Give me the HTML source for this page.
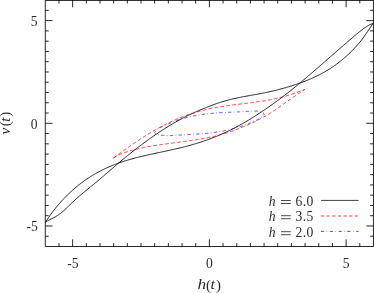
<!DOCTYPE html>
<html><head><meta charset="utf-8"><style>
html,body{margin:0;padding:0;background:#fff;}
svg{display:block}
text{font-family:"Liberation Serif",serif;fill:#2b2b2b}
.i{font-style:italic}
</style></head><body>
<svg width="374" height="293" viewBox="0 0 374 293">
<defs><filter id="gs" x="0" y="0" width="374" height="293" filterUnits="userSpaceOnUse" color-interpolation-filters="sRGB"><feColorMatrix type="saturate" values="0"/></filter></defs>
<rect width="374" height="293" fill="#fff"/>
<g fill="none" stroke="#000" stroke-width="0.85">
<path d="M45.3,246.5 V0 M373.45,246.5 V0 M45.3,246.5 H373.45 M45.3,0.45 H373.45"/>
<path d="M58.97,246.5 v-3.4 M58.97,0.1 v3.4 M45.3,236.23 h3.4 M373.45,236.23 h-3.4 M72.65,246.5 v-7.2 M72.65,0.1 v7.2 M45.3,225.97 h7.2 M373.45,225.97 h-7.2 M86.32,246.5 v-3.4 M86.32,0.1 v3.4 M45.3,215.70 h3.4 M373.45,215.70 h-3.4 M99.99,246.5 v-3.4 M99.99,0.1 v3.4 M45.3,205.43 h3.4 M373.45,205.43 h-3.4 M113.66,246.5 v-3.4 M113.66,0.1 v3.4 M45.3,195.17 h3.4 M373.45,195.17 h-3.4 M127.34,246.5 v-3.4 M127.34,0.1 v3.4 M45.3,184.90 h3.4 M373.45,184.90 h-3.4 M141.01,246.5 v-3.4 M141.01,0.1 v3.4 M45.3,174.63 h3.4 M373.45,174.63 h-3.4 M154.68,246.5 v-3.4 M154.68,0.1 v3.4 M45.3,164.37 h3.4 M373.45,164.37 h-3.4 M168.36,246.5 v-3.4 M168.36,0.1 v3.4 M45.3,154.10 h3.4 M373.45,154.10 h-3.4 M182.03,246.5 v-3.4 M182.03,0.1 v3.4 M45.3,143.83 h3.4 M373.45,143.83 h-3.4 M195.70,246.5 v-3.4 M195.70,0.1 v3.4 M45.3,133.57 h3.4 M373.45,133.57 h-3.4 M209.38,246.5 v-7.2 M209.38,0.1 v7.2 M45.3,123.30 h7.2 M373.45,123.30 h-7.2 M223.05,246.5 v-3.4 M223.05,0.1 v3.4 M45.3,113.03 h3.4 M373.45,113.03 h-3.4 M236.72,246.5 v-3.4 M236.72,0.1 v3.4 M45.3,102.77 h3.4 M373.45,102.77 h-3.4 M250.39,246.5 v-3.4 M250.39,0.1 v3.4 M45.3,92.50 h3.4 M373.45,92.50 h-3.4 M264.07,246.5 v-3.4 M264.07,0.1 v3.4 M45.3,82.23 h3.4 M373.45,82.23 h-3.4 M277.74,246.5 v-3.4 M277.74,0.1 v3.4 M45.3,71.97 h3.4 M373.45,71.97 h-3.4 M291.41,246.5 v-3.4 M291.41,0.1 v3.4 M45.3,61.70 h3.4 M373.45,61.70 h-3.4 M305.09,246.5 v-3.4 M305.09,0.1 v3.4 M45.3,51.43 h3.4 M373.45,51.43 h-3.4 M318.76,246.5 v-3.4 M318.76,0.1 v3.4 M45.3,41.17 h3.4 M373.45,41.17 h-3.4 M332.43,246.5 v-3.4 M332.43,0.1 v3.4 M45.3,30.90 h3.4 M373.45,30.90 h-3.4 M346.10,246.5 v-7.2 M346.10,0.1 v7.2 M45.3,20.63 h7.2 M373.45,20.63 h-7.2 M359.78,246.5 v-3.4 M359.78,0.1 v3.4 M45.3,10.37 h3.4 M373.45,10.37 h-3.4"/>
<path d="M45.40,222.30 L46.50,221.59 L47.59,220.92 L48.69,220.30 L49.78,219.70 L50.88,219.13 L51.97,218.56 L53.07,217.99 L54.17,217.42 L55.26,216.83 L56.36,216.21 L57.45,215.55 L58.55,214.85 L59.64,214.09 L60.74,213.27 L61.83,212.39 L62.93,211.45 L64.03,210.47 L65.12,209.45 L66.22,208.40 L67.31,207.34 L68.41,206.28 L69.50,205.21 L70.60,204.16 L71.70,203.10 L72.79,202.06 L73.89,201.03 L74.98,200.02 L76.08,199.02 L77.17,198.04 L78.27,197.07 L79.37,196.12 L80.46,195.17 L81.56,194.24 L82.65,193.32 L83.75,192.41 L84.84,191.50 L85.94,190.60 L87.03,189.70 L88.13,188.81 L89.23,187.92 L90.32,187.03 L91.42,186.14 L92.51,185.25 L93.61,184.36 L94.70,183.46 L95.80,182.56 L96.90,181.65 L97.99,180.73 L99.09,179.81 L100.18,178.88 L101.28,177.95 L102.37,177.01 L103.47,176.07 L104.57,175.13 L105.66,174.18 L106.76,173.24 L107.85,172.29 L108.95,171.34 L110.04,170.38 L111.14,169.43 L112.23,168.48 L113.33,167.54 L114.43,166.59 L115.52,165.65 L116.62,164.71 L117.71,163.77 L118.81,162.84 L119.90,161.91 L121.00,160.99 L122.10,160.08 L123.19,159.17 L124.29,158.26 L125.38,157.36 L126.48,156.47 L127.57,155.58 L128.67,154.69 L129.77,153.81 L130.86,152.94 L131.96,152.07 L133.05,151.21 L134.15,150.35 L135.24,149.50 L136.34,148.65 L137.43,147.81 L138.53,146.97 L139.63,146.14 L140.72,145.32 L141.82,144.50 L142.91,143.68 L144.01,142.88 L145.10,142.07 L146.20,141.27 L147.30,140.48 L148.39,139.70 L149.49,138.91 L150.58,138.14 L151.68,137.37 L152.77,136.60 L153.87,135.84 L154.97,135.09 L156.06,134.34 L157.16,133.60 L158.25,132.86 L159.35,132.13 L160.44,131.40 L161.54,130.68 L162.63,129.97 L163.73,129.26 L164.83,128.56 L165.92,127.87 L167.02,127.18 L168.11,126.50 L169.21,125.82 L170.30,125.16 L171.40,124.50 L172.50,123.84 L173.59,123.20 L174.69,122.56 L175.78,121.93 L176.88,121.31 L177.97,120.70 L179.07,120.10 L180.17,119.50 L181.26,118.92 L182.36,118.34 L183.45,117.77 L184.55,117.21 L185.64,116.66 L186.74,116.11 L187.83,115.57 L188.93,115.05 L190.03,114.52 L191.12,114.01 L192.22,113.50 L193.31,113.00 L194.41,112.50 L195.50,112.02 L196.60,111.53 L197.70,111.06 L198.79,110.58 L199.89,110.12 L200.98,109.66 L202.08,109.20 L203.17,108.75 L204.27,108.30 L205.37,107.86 L206.46,107.42 L207.56,106.98 L208.65,106.55 L209.75,106.13 L210.84,105.71 L211.94,105.29 L213.03,104.89 L214.13,104.48 L215.23,104.09 L216.32,103.71 L217.42,103.33 L218.51,102.96 L219.61,102.60 L220.70,102.25 L221.80,101.90 L222.90,101.57 L223.99,101.24 L225.09,100.93 L226.18,100.62 L227.28,100.32 L228.37,100.02 L229.47,99.74 L230.57,99.46 L231.66,99.19 L232.76,98.93 L233.85,98.67 L234.95,98.42 L236.04,98.18 L237.14,97.95 L238.23,97.72 L239.33,97.49 L240.43,97.28 L241.52,97.06 L242.62,96.85 L243.71,96.65 L244.81,96.45 L245.90,96.25 L247.00,96.05 L248.10,95.85 L249.19,95.66 L250.29,95.46 L251.38,95.27 L252.48,95.08 L253.57,94.88 L254.67,94.68 L255.77,94.49 L256.86,94.29 L257.96,94.08 L259.05,93.88 L260.15,93.67 L261.24,93.45 L262.34,93.24 L263.43,93.02 L264.53,92.80 L265.63,92.57 L266.72,92.34 L267.82,92.10 L268.91,91.87 L270.01,91.62 L271.10,91.38 L272.20,91.13 L273.30,90.87 L274.39,90.61 L275.49,90.35 L276.58,90.08 L277.68,89.81 L278.77,89.53 L279.87,89.25 L280.97,88.96 L282.06,88.66 L283.16,88.37 L284.25,88.06 L285.35,87.75 L286.44,87.44 L287.54,87.12 L288.63,86.79 L289.73,86.46 L290.83,86.12 L291.92,85.78 L293.02,85.43 L294.11,85.07 L295.21,84.71 L296.30,84.34 L297.40,83.96 L298.50,83.58 L299.59,83.19 L300.69,82.79 L301.78,82.39 L302.88,81.98 L303.97,81.56 L305.07,81.14 L306.17,80.71 L307.26,80.27 L308.36,79.82 L309.45,79.36 L310.55,78.89 L311.64,78.42 L312.74,77.93 L313.83,77.43 L314.93,76.93 L316.03,76.41 L317.12,75.88 L318.22,75.33 L319.31,74.78 L320.41,74.21 L321.50,73.63 L322.60,73.04 L323.70,72.43 L324.79,71.81 L325.89,71.18 L326.98,70.53 L328.08,69.86 L329.17,69.18 L330.27,68.49 L331.37,67.77 L332.46,67.04 L333.56,66.30 L334.65,65.53 L335.75,64.75 L336.84,63.95 L337.94,63.13 L339.03,62.29 L340.13,61.43 L341.23,60.56 L342.32,59.66 L343.42,58.74 L344.51,57.80 L345.61,56.84 L346.70,55.86 L347.80,54.86 L348.90,53.83 L349.99,52.78 L351.09,51.71 L352.18,50.62 L353.28,49.50 L354.37,48.35 L355.47,47.18 L356.57,45.98 L357.66,44.74 L358.76,43.47 L359.85,42.16 L360.95,40.80 L362.04,39.40 L363.14,37.94 L364.23,36.43 L365.33,34.87 L366.43,33.27 L367.52,31.63 L368.62,29.98 L369.71,28.33 L370.81,26.69 L371.90,25.07 L373.00,23.50"/>
<path d="M45.40,222.30 L46.50,220.62 L47.59,218.99 L48.69,217.39 L49.78,215.82 L50.88,214.29 L51.97,212.80 L53.07,211.34 L54.17,209.91 L55.26,208.52 L56.36,207.15 L57.45,205.82 L58.55,204.52 L59.64,203.24 L60.74,202.00 L61.83,200.78 L62.93,199.59 L64.03,198.43 L65.12,197.29 L66.22,196.18 L67.31,195.09 L68.41,194.03 L69.50,192.98 L70.60,191.96 L71.70,190.97 L72.79,189.99 L73.89,189.03 L74.98,188.09 L76.08,187.17 L77.17,186.26 L78.27,185.38 L79.37,184.51 L80.46,183.66 L81.56,182.83 L82.65,182.01 L83.75,181.21 L84.84,180.43 L85.94,179.67 L87.03,178.92 L88.13,178.18 L89.23,177.46 L90.32,176.76 L91.42,176.07 L92.51,175.40 L93.61,174.74 L94.70,174.09 L95.80,173.46 L96.90,172.84 L97.99,172.24 L99.09,171.65 L100.18,171.07 L101.28,170.51 L102.37,169.95 L103.47,169.41 L104.57,168.89 L105.66,168.37 L106.76,167.86 L107.85,167.37 L108.95,166.89 L110.04,166.42 L111.14,165.96 L112.23,165.51 L113.33,165.07 L114.43,164.64 L115.52,164.21 L116.62,163.80 L117.71,163.40 L118.81,163.01 L119.90,162.62 L121.00,162.24 L122.10,161.88 L123.19,161.51 L124.29,161.16 L125.38,160.82 L126.48,160.48 L127.57,160.14 L128.67,159.82 L129.77,159.50 L130.86,159.19 L131.96,158.88 L133.05,158.58 L134.15,158.28 L135.24,157.99 L136.34,157.71 L137.43,157.43 L138.53,157.15 L139.63,156.88 L140.72,156.61 L141.82,156.34 L142.91,156.08 L144.01,155.83 L145.10,155.57 L146.20,155.32 L147.30,155.07 L148.39,154.83 L149.49,154.58 L150.58,154.34 L151.68,154.10 L152.77,153.87 L153.87,153.63 L154.97,153.39 L156.06,153.16 L157.16,152.93 L158.25,152.70 L159.35,152.47 L160.44,152.23 L161.54,152.00 L162.63,151.77 L163.73,151.54 L164.83,151.31 L165.92,151.08 L167.02,150.84 L168.11,150.61 L169.21,150.37 L170.30,150.13 L171.40,149.89 L172.50,149.65 L173.59,149.41 L174.69,149.16 L175.78,148.91 L176.88,148.66 L177.97,148.40 L179.07,148.14 L180.17,147.88 L181.26,147.62 L182.36,147.35 L183.45,147.07 L184.55,146.79 L185.64,146.51 L186.74,146.22 L187.83,145.93 L188.93,145.63 L190.03,145.33 L191.12,145.02 L192.22,144.71 L193.31,144.39 L194.41,144.07 L195.50,143.74 L196.60,143.40 L197.70,143.06 L198.79,142.72 L199.89,142.36 L200.98,142.01 L202.08,141.64 L203.17,141.27 L204.27,140.90 L205.37,140.52 L206.46,140.13 L207.56,139.74 L208.65,139.34 L209.75,138.93 L210.84,138.52 L211.94,138.10 L213.03,137.68 L214.13,137.25 L215.23,136.81 L216.32,136.37 L217.42,135.92 L218.51,135.46 L219.61,134.99 L220.70,134.52 L221.80,134.05 L222.90,133.56 L223.99,133.07 L225.09,132.57 L226.18,132.06 L227.28,131.55 L228.37,131.03 L229.47,130.50 L230.57,129.97 L231.66,129.43 L232.76,128.88 L233.85,128.32 L234.95,127.76 L236.04,127.18 L237.14,126.60 L238.23,126.02 L239.33,125.42 L240.43,124.82 L241.52,124.21 L242.62,123.59 L243.71,122.96 L244.81,122.33 L245.90,121.69 L247.00,121.05 L248.10,120.39 L249.19,119.73 L250.29,119.07 L251.38,118.39 L252.48,117.71 L253.57,117.03 L254.67,116.34 L255.77,115.64 L256.86,114.93 L257.96,114.22 L259.05,113.51 L260.15,112.78 L261.24,112.06 L262.34,111.32 L263.43,110.58 L264.53,109.84 L265.63,109.09 L266.72,108.34 L267.82,107.58 L268.91,106.81 L270.01,106.04 L271.10,105.27 L272.20,104.49 L273.30,103.71 L274.39,102.92 L275.49,102.13 L276.58,101.33 L277.68,100.53 L278.77,99.72 L279.87,98.91 L280.97,98.09 L282.06,97.27 L283.16,96.44 L284.25,95.60 L285.35,94.76 L286.44,93.92 L287.54,93.07 L288.63,92.21 L289.73,91.35 L290.83,90.48 L291.92,89.60 L293.02,88.72 L294.11,87.84 L295.21,86.94 L296.30,86.04 L297.40,85.14 L298.50,84.23 L299.59,83.31 L300.69,82.40 L301.78,81.47 L302.88,80.55 L303.97,79.62 L305.07,78.69 L306.17,77.75 L307.26,76.82 L308.36,75.88 L309.45,74.94 L310.55,74.00 L311.64,73.06 L312.74,72.12 L313.83,71.17 L314.93,70.22 L316.03,69.28 L317.12,68.33 L318.22,67.38 L319.31,66.43 L320.41,65.48 L321.50,64.52 L322.60,63.57 L323.70,62.62 L324.79,61.66 L325.89,60.71 L326.98,59.75 L328.08,58.80 L329.17,57.84 L330.27,56.89 L331.37,55.93 L332.46,54.98 L333.56,54.02 L334.65,53.07 L335.75,52.11 L336.84,51.16 L337.94,50.20 L339.03,49.25 L340.13,48.30 L341.23,47.35 L342.32,46.40 L343.42,45.45 L344.51,44.50 L345.61,43.55 L346.70,42.61 L347.80,41.66 L348.90,40.72 L349.99,39.78 L351.09,38.83 L352.18,37.90 L353.28,36.96 L354.37,36.02 L355.47,35.09 L356.57,34.16 L357.66,33.24 L358.76,32.33 L359.85,31.44 L360.95,30.57 L362.04,29.72 L363.14,28.90 L364.23,28.12 L365.33,27.37 L366.43,26.66 L367.52,26.00 L368.62,25.38 L369.71,24.82 L370.81,24.32 L371.90,23.87 L373.00,23.49"/>
<path d="M321,200.4 H358.6" stroke-width="0.75"/>
</g>
<g fill="none" stroke="#00f" stroke-width="0.72">
<path d="M264.30,113.90 L264.00,113.62 L263.70,113.36 L263.39,113.13 L263.08,112.91 L262.77,112.71 L262.45,112.53 L262.12,112.36 L261.79,112.21 L261.46,112.07 L261.13,111.95 L260.79,111.83 L260.45,111.73 L260.10,111.64 L259.75,111.55 L259.40,111.48 L259.05,111.41 L258.69,111.34 L258.33,111.29 L257.96,111.24 L257.60,111.20 L257.23,111.16 L256.86,111.13 L256.49,111.10 L256.11,111.08 L255.74,111.06 L255.36,111.05 L254.98,111.04 L254.60,111.04 L254.21,111.04 L253.83,111.04 L253.44,111.05 L253.05,111.06 L252.66,111.07 L252.27,111.09 L251.88,111.11 L251.49,111.13 L251.10,111.15 L250.71,111.17 L250.31,111.20 L249.92,111.22 L249.53,111.25 L249.13,111.28 L248.74,111.30 L248.34,111.33 L247.95,111.36 L247.56,111.38 L247.16,111.41 L246.77,111.43 L246.38,111.46 L245.98,111.48 L245.59,111.51 L245.20,111.53 L244.81,111.55 L244.42,111.58 L244.03,111.60 L243.64,111.62 L243.25,111.64 L242.86,111.66 L242.47,111.68 L242.08,111.70 L241.69,111.72 L241.30,111.74 L240.91,111.76 L240.52,111.78 L240.13,111.80 L239.74,111.82 L239.36,111.83 L238.97,111.85 L238.58,111.87 L238.19,111.89 L237.81,111.90 L237.42,111.92 L237.03,111.94 L236.64,111.95 L236.26,111.97 L235.87,111.99 L235.49,112.00 L235.10,112.02 L234.72,112.03 L234.33,112.05 L233.94,112.07 L233.56,112.08 L233.17,112.10 L232.79,112.11 L232.40,112.13 L232.02,112.14 L231.64,112.16 L231.25,112.17 L230.87,112.19 L230.48,112.21 L230.10,112.22 L229.72,112.24 L229.33,112.25 L228.95,112.27 L228.57,112.29 L228.18,112.30 L227.80,112.32 L227.42,112.33 L227.03,112.35 L226.65,112.37 L226.27,112.39 L225.89,112.40 L225.50,112.42 L225.12,112.44 L224.74,112.46 L224.36,112.47 L223.97,112.49 L223.59,112.51 L223.21,112.53 L222.83,112.55 L222.45,112.57 L222.06,112.59 L221.68,112.61 L221.30,112.63 L220.92,112.66 L220.54,112.68 L220.15,112.70 L219.77,112.72 L219.39,112.75 L219.01,112.77 L218.63,112.79 L218.25,112.82 L217.86,112.84 L217.48,112.87 L217.10,112.90 L216.72,112.92 L216.34,112.95 L215.96,112.98 L215.57,113.01 L215.19,113.04 L214.81,113.06 L214.43,113.10 L214.05,113.13 L213.67,113.16 L213.28,113.19 L212.90,113.22 L212.52,113.26 L212.14,113.29 L211.76,113.33 L211.37,113.36 L210.99,113.40 L210.61,113.44 L210.23,113.48 L209.84,113.51 L209.46,113.55 L209.08,113.60 L208.70,113.64 L208.31,113.68 L207.93,113.72 L207.55,113.77 L207.17,113.81 L206.78,113.86 L206.40,113.90 L206.02,113.95 L205.64,114.00 L205.25,114.05 L204.87,114.10 L204.49,114.15 L204.11,114.20 L203.72,114.25 L203.34,114.30 L202.96,114.36 L202.58,114.41 L202.19,114.47 L201.81,114.52 L201.43,114.58 L201.05,114.64 L200.67,114.70 L200.28,114.76 L199.90,114.82 L199.52,114.88 L199.14,114.94 L198.76,115.01 L198.38,115.07 L198.00,115.14 L197.61,115.20 L197.23,115.27 L196.85,115.34 L196.47,115.41 L196.09,115.48 L195.71,115.55 L195.33,115.62 L194.95,115.69 L194.57,115.77 L194.19,115.84 L193.81,115.92 L193.44,115.99 L193.06,116.07 L192.68,116.15 L192.30,116.23 L191.92,116.31 L191.54,116.39 L191.17,116.47 L190.79,116.56 L190.41,116.64 L190.04,116.73 L189.66,116.82 L189.28,116.90 L188.91,116.99 L188.53,117.08 L188.16,117.17 L187.78,117.26 L187.41,117.36 L187.03,117.45 L186.66,117.55 L186.28,117.64 L185.91,117.74 L185.54,117.84 L185.16,117.94 L184.79,118.04 L184.42,118.14 L184.05,118.24 L183.68,118.34 L183.31,118.45 L182.93,118.55 L182.56,118.66 L182.20,118.77 L181.83,118.88 L181.46,118.99 L181.09,119.10 L180.72,119.21 L180.35,119.32 L179.98,119.44 L179.62,119.55 L179.25,119.67 L178.89,119.79 L178.52,119.91 L178.16,120.03 L177.79,120.15 L177.43,120.27 L177.06,120.39 L176.70,120.52 L176.34,120.64 L175.98,120.77 L175.61,120.90 L175.25,121.03 L174.89,121.16 L174.53,121.29 L174.17,121.42 L173.81,121.56 L173.45,121.69 L173.09,121.83 L172.74,121.97 L172.38,122.11 L172.02,122.25 L171.66,122.39 L171.31,122.53 L170.95,122.67 L170.60,122.82 L170.24,122.96 L169.89,123.11 L169.53,123.26 L169.18,123.40 L168.82,123.55 L168.47,123.70 L168.11,123.86 L167.76,124.01 L167.41,124.16 L167.05,124.32 L166.70,124.48 L166.35,124.63 L166.00,124.79 L165.64,124.95 L165.29,125.11 L164.94,125.27 L164.59,125.43 L164.24,125.60 L163.89,125.76 L163.54,125.93 L163.19,126.10 L162.84,126.26 L162.49,126.43 L162.13,126.60 L161.78,126.77 L161.43,126.95 L161.08,127.12 L160.73,127.29 L160.39,127.47 L160.04,127.64 L159.69,127.82 L159.35,128.01 L159.01,128.20 L158.68,128.39 L158.35,128.58 L158.03,128.78 L157.72,128.99 L157.42,129.21 L157.12,129.43 L156.83,129.66 L156.56,129.89 L156.29,130.14 L156.04,130.40 L155.80,130.66 L155.58,130.94 L155.37,131.23 L155.18,131.53 L155.00,131.84 L154.84,132.16 L154.70,132.50 L154.87,132.79 L155.07,133.05 L155.29,133.29 L155.53,133.51 L155.79,133.71 L156.06,133.90 L156.35,134.06 L156.65,134.21 L156.96,134.34 L157.29,134.46 L157.63,134.57 L157.98,134.66 L158.33,134.75 L158.69,134.83 L159.06,134.89 L159.43,134.96 L159.81,135.01 L160.19,135.06 L160.56,135.11 L160.94,135.16 L161.32,135.20 L161.70,135.24 L162.08,135.28 L162.46,135.31 L162.84,135.35 L163.23,135.38 L163.61,135.40 L163.99,135.43 L164.37,135.45 L164.76,135.47 L165.14,135.49 L165.52,135.51 L165.91,135.52 L166.29,135.53 L166.68,135.54 L167.06,135.55 L167.45,135.56 L167.83,135.56 L168.22,135.56 L168.60,135.56 L168.99,135.56 L169.38,135.56 L169.76,135.56 L170.15,135.55 L170.54,135.54 L170.93,135.53 L171.31,135.52 L171.70,135.51 L172.09,135.50 L172.48,135.49 L172.87,135.47 L173.26,135.46 L173.64,135.44 L174.03,135.42 L174.42,135.40 L174.81,135.39 L175.20,135.37 L175.59,135.34 L175.98,135.32 L176.37,135.30 L176.76,135.28 L177.15,135.26 L177.54,135.23 L177.93,135.21 L178.32,135.18 L178.71,135.16 L179.10,135.14 L179.49,135.11 L179.88,135.09 L180.27,135.06 L180.66,135.04 L181.05,135.01 L181.44,134.99 L181.83,134.96 L182.22,134.94 L182.60,134.92 L182.99,134.89 L183.38,134.87 L183.77,134.85 L184.16,134.82 L184.55,134.80 L184.94,134.78 L185.33,134.75 L185.72,134.73 L186.10,134.71 L186.49,134.69 L186.88,134.66 L187.27,134.64 L187.66,134.62 L188.05,134.60 L188.43,134.58 L188.82,134.55 L189.21,134.53 L189.60,134.51 L189.98,134.49 L190.37,134.46 L190.76,134.44 L191.15,134.42 L191.53,134.40 L191.92,134.38 L192.31,134.35 L192.69,134.33 L193.08,134.31 L193.47,134.28 L193.86,134.26 L194.24,134.24 L194.63,134.21 L195.01,134.19 L195.40,134.17 L195.79,134.14 L196.17,134.12 L196.56,134.09 L196.95,134.07 L197.33,134.04 L197.72,134.02 L198.10,133.99 L198.49,133.96 L198.87,133.94 L199.26,133.91 L199.64,133.88 L200.03,133.86 L200.41,133.83 L200.80,133.80 L201.18,133.77 L201.57,133.74 L201.95,133.71 L202.34,133.68 L202.72,133.65 L203.11,133.62 L203.49,133.59 L203.88,133.56 L204.26,133.52 L204.64,133.49 L205.03,133.46 L205.41,133.42 L205.80,133.39 L206.18,133.35 L206.56,133.32 L206.95,133.28 L207.33,133.24 L207.71,133.21 L208.09,133.17 L208.48,133.13 L208.86,133.09 L209.24,133.05 L209.63,133.01 L210.01,132.97 L210.39,132.92 L210.77,132.88 L211.16,132.84 L211.54,132.79 L211.92,132.75 L212.30,132.70 L212.68,132.65 L213.06,132.60 L213.45,132.55 L213.83,132.50 L214.21,132.45 L214.59,132.40 L214.97,132.35 L215.35,132.30 L215.73,132.24 L216.11,132.19 L216.49,132.13 L216.87,132.08 L217.26,132.02 L217.64,131.96 L218.02,131.90 L218.40,131.84 L218.78,131.78 L219.16,131.71 L219.54,131.65 L219.91,131.59 L220.29,131.52 L220.67,131.45 L221.05,131.39 L221.43,131.32 L221.81,131.25 L222.19,131.18 L222.57,131.11 L222.95,131.03 L223.32,130.96 L223.70,130.89 L224.08,130.81 L224.46,130.74 L224.84,130.66 L225.21,130.58 L225.59,130.50 L225.97,130.42 L226.35,130.34 L226.72,130.26 L227.10,130.18 L227.47,130.09 L227.85,130.01 L228.23,129.92 L228.60,129.84 L228.98,129.75 L229.35,129.66 L229.73,129.57 L230.10,129.48 L230.48,129.39 L230.85,129.29 L231.23,129.20 L231.60,129.11 L231.98,129.01 L232.35,128.91 L232.73,128.82 L233.10,128.72 L233.47,128.62 L233.84,128.52 L234.22,128.42 L234.59,128.32 L234.96,128.21 L235.33,128.11 L235.71,128.00 L236.08,127.90 L236.45,127.79 L236.82,127.68 L237.19,127.57 L237.56,127.46 L237.93,127.35 L238.30,127.24 L238.67,127.13 L239.04,127.01 L239.41,126.90 L239.78,126.78 L240.15,126.66 L240.52,126.55 L240.89,126.43 L241.26,126.31 L241.62,126.18 L241.99,126.06 L242.36,125.94 L242.73,125.82 L243.09,125.69 L243.46,125.56 L243.83,125.44 L244.19,125.31 L244.56,125.18 L244.92,125.05 L245.29,124.92 L245.65,124.79 L246.02,124.65 L246.38,124.52 L246.75,124.39 L247.11,124.25 L247.47,124.11 L247.84,123.97 L248.20,123.83 L248.56,123.69 L248.92,123.55 L249.28,123.41 L249.65,123.27 L250.01,123.12 L250.37,122.98 L250.73,122.83 L251.09,122.69 L251.45,122.54 L251.81,122.39 L252.17,122.24 L252.53,122.09 L252.88,121.93 L253.24,121.78 L253.60,121.63 L253.96,121.47 L254.31,121.31 L254.67,121.15 L255.02,120.99 L255.37,120.83 L255.72,120.66 L256.07,120.49 L256.41,120.32 L256.76,120.14 L257.10,119.96 L257.44,119.78 L257.77,119.60 L258.11,119.41 L258.43,119.22 L258.76,119.02 L259.08,118.82 L259.40,118.61 L259.72,118.40 L260.03,118.18 L260.33,117.96 L260.64,117.74 L260.93,117.50 L261.23,117.27 L261.52,117.02 L261.80,116.77 L262.08,116.52 L262.35,116.25 L262.61,115.99 L262.87,115.71 L263.13,115.43 L263.38,115.14 L263.62,114.84 L263.85,114.53 L264.08,114.22 L264.30,113.90" stroke-dasharray="3.3 2.461 0.6 2.461" stroke-dashoffset="1.65"/>
<path d="M321,231.4 H358.6" stroke-dasharray="3.1 2.6 0.5 2.6"/>
</g>
<g fill="none" stroke="#f00" stroke-width="0.8">
<path d="M113.50,158.00 L114.14,157.53 L114.78,157.06 L115.42,156.58 L116.06,156.11 L116.70,155.64 L117.34,155.17 L117.98,154.70 L118.62,154.23 L119.26,153.76 L119.90,153.30 L120.54,152.83 L121.18,152.37 L121.82,151.91 L122.46,151.44 L123.10,150.98 L123.74,150.52 L124.38,150.06 L125.02,149.61 L125.66,149.15 L126.30,148.70 L126.94,148.24 L127.58,147.79 L128.22,147.34 L128.86,146.89 L129.49,146.44 L130.13,145.99 L130.77,145.55 L131.41,145.11 L132.05,144.66 L132.69,144.22 L133.33,143.78 L133.97,143.35 L134.61,142.91 L135.25,142.48 L135.89,142.04 L136.53,141.61 L137.17,141.18 L137.81,140.76 L138.45,140.33 L139.09,139.91 L139.73,139.49 L140.37,139.07 L141.01,138.65 L141.65,138.23 L142.29,137.82 L142.93,137.41 L143.57,137.00 L144.21,136.59 L144.85,136.18 L145.49,135.78 L146.13,135.38 L146.77,134.98 L147.41,134.58 L148.05,134.19 L148.69,133.79 L149.33,133.40 L149.97,133.01 L150.61,132.63 L151.25,132.25 L151.89,131.86 L152.53,131.49 L153.17,131.11 L153.81,130.74 L154.45,130.37 L155.09,130.00 L155.73,129.63 L156.37,129.27 L157.01,128.91 L157.65,128.55 L158.29,128.19 L158.93,127.84 L159.57,127.49 L160.21,127.14 L160.85,126.80 L161.48,126.46 L162.12,126.12 L162.76,125.78 L163.40,125.45 L164.04,125.12 L164.68,124.79 L165.32,124.47 L165.96,124.15 L166.60,123.83 L167.24,123.51 L167.88,123.20 L168.52,122.89 L169.16,122.59 L169.80,122.28 L170.44,121.98 L171.08,121.69 L171.72,121.39 L172.36,121.10 L173.00,120.81 L173.64,120.52 L174.28,120.24 L174.92,119.96 L175.56,119.68 L176.20,119.41 L176.84,119.14 L177.48,118.87 L178.12,118.60 L178.76,118.34 L179.40,118.08 L180.04,117.82 L180.68,117.57 L181.32,117.32 L181.96,117.07 L182.60,116.82 L183.24,116.58 L183.88,116.34 L184.52,116.10 L185.16,115.86 L185.80,115.63 L186.44,115.40 L187.08,115.17 L187.72,114.95 L188.36,114.73 L189.00,114.51 L189.64,114.29 L190.28,114.08 L190.92,113.86 L191.56,113.66 L192.20,113.45 L192.84,113.25 L193.47,113.04 L194.11,112.85 L194.75,112.65 L195.39,112.46 L196.03,112.26 L196.67,112.08 L197.31,111.89 L197.95,111.71 L198.59,111.52 L199.23,111.35 L199.87,111.17 L200.51,111.00 L201.15,110.82 L201.79,110.66 L202.43,110.49 L203.07,110.33 L203.71,110.16 L204.35,110.00 L204.99,109.85 L205.63,109.69 L206.27,109.54 L206.91,109.39 L207.55,109.24 L208.19,109.10 L208.83,108.96 L209.47,108.81 L210.11,108.68 L210.75,108.54 L211.39,108.41 L212.03,108.28 L212.67,108.15 L213.31,108.02 L213.95,107.89 L214.59,107.77 L215.23,107.65 L215.87,107.53 L216.51,107.42 L217.15,107.30 L217.79,107.19 L218.43,107.08 L219.07,106.97 L219.71,106.86 L220.35,106.76 L220.99,106.65 L221.63,106.55 L222.27,106.45 L222.91,106.35 L223.55,106.26 L224.19,106.16 L224.83,106.07 L225.46,105.97 L226.10,105.88 L226.74,105.79 L227.38,105.70 L228.02,105.61 L228.66,105.53 L229.30,105.44 L229.94,105.35 L230.58,105.27 L231.22,105.19 L231.86,105.10 L232.50,105.02 L233.14,104.94 L233.78,104.86 L234.42,104.78 L235.06,104.70 L235.70,104.62 L236.34,104.54 L236.98,104.47 L237.62,104.39 L238.26,104.31 L238.90,104.23 L239.54,104.16 L240.18,104.08 L240.82,104.00 L241.46,103.93 L242.10,103.85 L242.74,103.78 L243.38,103.70 L244.02,103.62 L244.66,103.55 L245.30,103.47 L245.94,103.39 L246.58,103.31 L247.22,103.24 L247.86,103.16 L248.50,103.08 L249.14,103.00 L249.78,102.92 L250.42,102.84 L251.06,102.76 L251.70,102.67 L252.34,102.59 L252.98,102.51 L253.62,102.42 L254.26,102.34 L254.90,102.25 L255.54,102.16 L256.18,102.07 L256.82,101.98 L257.45,101.89 L258.09,101.80 L258.73,101.71 L259.37,101.61 L260.01,101.52 L260.65,101.42 L261.29,101.32 L261.93,101.22 L262.57,101.12 L263.21,101.01 L263.85,100.91 L264.49,100.80 L265.13,100.69 L265.77,100.58 L266.41,100.46 L267.05,100.35 L267.69,100.23 L268.33,100.11 L268.97,99.99 L269.61,99.87 L270.25,99.75 L270.89,99.62 L271.53,99.49 L272.17,99.36 L272.81,99.23 L273.45,99.09 L274.09,98.95 L274.73,98.81 L275.37,98.67 L276.01,98.53 L276.65,98.38 L277.29,98.23 L277.93,98.08 L278.57,97.93 L279.21,97.77 L279.85,97.62 L280.49,97.45 L281.13,97.29 L281.77,97.13 L282.41,96.96 L283.05,96.79 L283.69,96.62 L284.33,96.44 L284.97,96.27 L285.61,96.09 L286.25,95.90 L286.89,95.72 L287.53,95.53 L288.17,95.34 L288.81,95.15 L289.44,94.95 L290.08,94.75 L290.72,94.55 L291.36,94.35 L292.00,94.14 L292.64,93.93 L293.28,93.72 L293.92,93.50 L294.56,93.29 L295.20,93.07 L295.84,92.84 L296.48,92.62 L297.12,92.39 L297.76,92.15 L298.40,91.92 L299.04,91.68 L299.68,91.44 L300.32,91.19 L300.96,90.95 L301.60,90.70 L302.24,90.44 L302.88,90.18 L303.52,89.92 L304.16,89.66 L304.80,89.39 M113.50,158.00 L114.14,157.57 L114.78,157.16 L115.42,156.77 L116.06,156.39 L116.70,156.03 L117.34,155.68 L117.98,155.35 L118.62,155.03 L119.26,154.73 L119.90,154.43 L120.54,154.15 L121.18,153.88 L121.82,153.62 L122.46,153.36 L123.10,153.12 L123.74,152.89 L124.38,152.66 L125.02,152.44 L125.66,152.22 L126.30,152.02 L126.94,151.81 L127.58,151.61 L128.22,151.42 L128.86,151.22 L129.49,151.04 L130.13,150.85 L130.77,150.67 L131.41,150.49 L132.05,150.31 L132.69,150.14 L133.33,149.97 L133.97,149.80 L134.61,149.64 L135.25,149.48 L135.89,149.32 L136.53,149.16 L137.17,149.01 L137.81,148.86 L138.45,148.71 L139.09,148.56 L139.73,148.42 L140.37,148.28 L141.01,148.14 L141.65,148.00 L142.29,147.86 L142.93,147.73 L143.57,147.60 L144.21,147.47 L144.85,147.34 L145.49,147.22 L146.13,147.09 L146.77,146.97 L147.41,146.85 L148.05,146.73 L148.69,146.61 L149.33,146.50 L149.97,146.38 L150.61,146.27 L151.25,146.16 L151.89,146.05 L152.53,145.94 L153.17,145.83 L153.81,145.73 L154.45,145.62 L155.09,145.52 L155.73,145.42 L156.37,145.32 L157.01,145.22 L157.65,145.12 L158.29,145.02 L158.93,144.93 L159.57,144.83 L160.21,144.74 L160.85,144.64 L161.48,144.55 L162.12,144.46 L162.76,144.37 L163.40,144.28 L164.04,144.19 L164.68,144.10 L165.32,144.01 L165.96,143.92 L166.60,143.83 L167.24,143.75 L167.88,143.66 L168.52,143.57 L169.16,143.49 L169.80,143.40 L170.44,143.32 L171.08,143.24 L171.72,143.15 L172.36,143.07 L173.00,142.98 L173.64,142.90 L174.28,142.82 L174.92,142.73 L175.56,142.65 L176.20,142.57 L176.84,142.48 L177.48,142.40 L178.12,142.32 L178.76,142.23 L179.40,142.15 L180.04,142.07 L180.68,141.98 L181.32,141.90 L181.96,141.81 L182.60,141.73 L183.24,141.64 L183.88,141.55 L184.52,141.47 L185.16,141.38 L185.80,141.29 L186.44,141.20 L187.08,141.12 L187.72,141.03 L188.36,140.94 L189.00,140.84 L189.64,140.75 L190.28,140.66 L190.92,140.57 L191.56,140.47 L192.20,140.38 L192.84,140.28 L193.47,140.18 L194.11,140.09 L194.75,139.99 L195.39,139.89 L196.03,139.78 L196.67,139.68 L197.31,139.58 L197.95,139.47 L198.59,139.37 L199.23,139.26 L199.87,139.15 L200.51,139.04 L201.15,138.93 L201.79,138.81 L202.43,138.70 L203.07,138.58 L203.71,138.47 L204.35,138.35 L204.99,138.23 L205.63,138.10 L206.27,137.98 L206.91,137.85 L207.55,137.72 L208.19,137.59 L208.83,137.46 L209.47,137.33 L210.11,137.19 L210.75,137.05 L211.39,136.91 L212.03,136.77 L212.67,136.63 L213.31,136.48 L213.95,136.34 L214.59,136.19 L215.23,136.03 L215.87,135.88 L216.51,135.72 L217.15,135.56 L217.79,135.40 L218.43,135.24 L219.07,135.07 L219.71,134.90 L220.35,134.73 L220.99,134.55 L221.63,134.38 L222.27,134.20 L222.91,134.02 L223.55,133.83 L224.19,133.64 L224.83,133.45 L225.46,133.26 L226.10,133.06 L226.74,132.87 L227.38,132.66 L228.02,132.46 L228.66,132.25 L229.30,132.04 L229.94,131.83 L230.58,131.62 L231.22,131.40 L231.86,131.18 L232.50,130.95 L233.14,130.73 L233.78,130.50 L234.42,130.27 L235.06,130.03 L235.70,129.80 L236.34,129.56 L236.98,129.32 L237.62,129.07 L238.26,128.83 L238.90,128.58 L239.54,128.32 L240.18,128.07 L240.82,127.81 L241.46,127.55 L242.10,127.29 L242.74,127.02 L243.38,126.76 L244.02,126.49 L244.66,126.21 L245.30,125.94 L245.94,125.66 L246.58,125.38 L247.22,125.10 L247.86,124.81 L248.50,124.53 L249.14,124.24 L249.78,123.94 L250.42,123.65 L251.06,123.35 L251.70,123.05 L252.34,122.75 L252.98,122.44 L253.62,122.14 L254.26,121.83 L254.90,121.52 L255.54,121.20 L256.18,120.89 L256.82,120.57 L257.45,120.25 L258.09,119.92 L258.73,119.60 L259.37,119.27 L260.01,118.94 L260.65,118.61 L261.29,118.27 L261.93,117.94 L262.57,117.60 L263.21,117.26 L263.85,116.91 L264.49,116.56 L265.13,116.21 L265.77,115.85 L266.41,115.49 L267.05,115.12 L267.69,114.75 L268.33,114.37 L268.97,113.99 L269.61,113.60 L270.25,113.20 L270.89,112.80 L271.53,112.39 L272.17,111.98 L272.81,111.55 L273.45,111.13 L274.09,110.70 L274.73,110.26 L275.37,109.82 L276.01,109.38 L276.65,108.93 L277.29,108.48 L277.93,108.03 L278.57,107.58 L279.21,107.12 L279.85,106.66 L280.49,106.21 L281.13,105.75 L281.77,105.29 L282.41,104.83 L283.05,104.38 L283.69,103.92 L284.33,103.47 L284.97,103.01 L285.61,102.56 L286.25,102.11 L286.89,101.66 L287.53,101.21 L288.17,100.76 L288.81,100.31 L289.44,99.87 L290.08,99.42 L290.72,98.98 L291.36,98.53 L292.00,98.09 L292.64,97.65 L293.28,97.21 L293.92,96.77 L294.56,96.33 L295.20,95.89 L295.84,95.45 L296.48,95.02 L297.12,94.58 L297.76,94.14 L298.40,93.71 L299.04,93.28 L299.68,92.84 L300.32,92.41 L300.96,91.98 L301.60,91.55 L302.24,91.12 L302.88,90.69 L303.52,90.26 L304.16,89.83 L304.80,89.40" stroke-dasharray="3.6 2.4"/>
<path d="M321,216 H358.6" stroke-dasharray="3.05 2.6"/>
</g>
<g font-size="13.6" text-anchor="middle" filter="url(#gs)">
<text x="73" y="267.6">-5</text>
<text x="209.4" y="267.6">0</text>
<text x="346.2" y="267.6">5</text>
<text x="34.2" y="25.6">5</text>
<text x="34.2" y="128.8">0</text>
<text x="32.1" y="231.4">-5</text>
</g>
<g font-size="13.6" filter="url(#gs)">
<text transform="translate(197.4,289.3) scale(1.27,1)" class="i">h</text>
<text transform="translate(205.9,289.8) scale(1.1,1.13)">(</text>
<text transform="translate(210.6,289.3) scale(1.18,1)" class="i">t</text>
<text transform="translate(215.9,289.8) scale(1.1,1.13)">)</text>
<text transform="translate(9.8,134.6) rotate(-90) scale(1.1,1)" class="i">v</text>
<text transform="translate(10.2,126.2) rotate(-90) scale(1.1,1.13)">(</text>
<text transform="translate(9.8,121.9) rotate(-90) scale(1.18,1)" class="i">t</text>
<text transform="translate(10.2,116.8) rotate(-90) scale(1.1,1.13)">)</text>
<text x="268.7" y="205.8" class="i">h</text><text x="295.6" y="206.1" letter-spacing="0.4">6.0</text>
<text x="268.7" y="221.2" class="i">h</text><text x="295.6" y="221.3" letter-spacing="0.4">3.5</text>
<text x="268.7" y="236.9" class="i">h</text><text x="295.6" y="237.0" letter-spacing="0.4">2.0</text>
</g>
<path d="M281,200.5 h9.8 M281,203.5 h9.8 M281,215.7 h9.8 M281,218.7 h9.8 M281,231.7 h9.8 M281,234.7 h9.8" stroke="#000" stroke-width="0.7" fill="none"/>
</svg>
</body></html>
